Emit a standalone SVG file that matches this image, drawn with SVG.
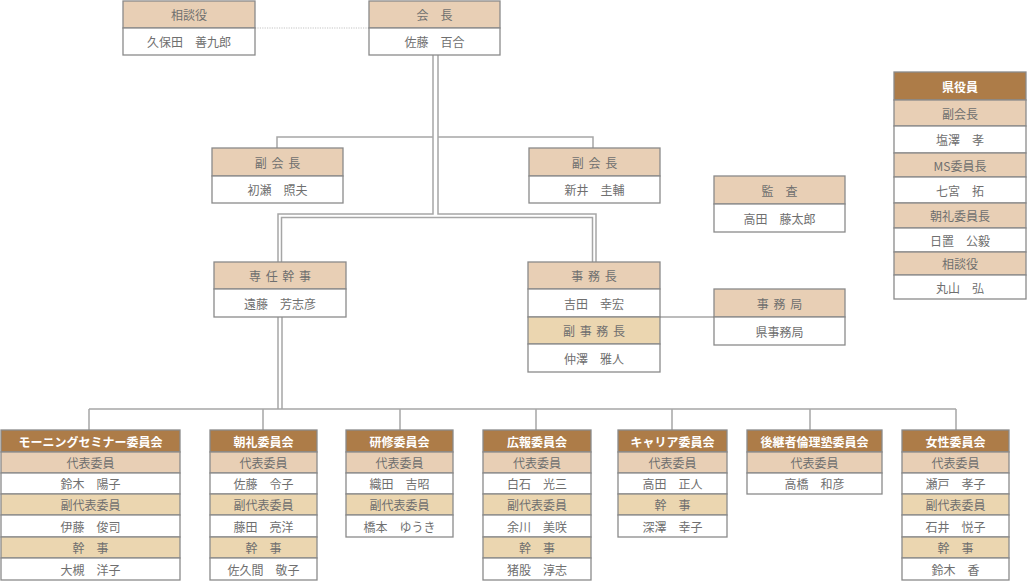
<svg xmlns="http://www.w3.org/2000/svg" width="1027" height="582" viewBox="0 0 1027 582">
<style>
.r{stroke:#8a8a8a;stroke-width:1.3}
.hd{fill:#ad7c48}
.pk{fill:#e8cfb5}
.yl{fill:#ebd6b0}
.wh{fill:#ffffff}
text{font-family:"Noto Sans CJK JP","Noto Sans",sans-serif;font-size:12px;fill:#6f6f6f;text-anchor:middle;dominant-baseline:central}
text.th{fill:#ffffff;font-weight:bold}
text.sp{letter-spacing:1px}
.ln{fill:none;stroke:#a6a6a6;stroke-width:1.5}
.dt{fill:none;stroke:#c4c4c4;stroke-width:1.2;stroke-dasharray:1.2 1.2}
</style>
<rect width="1027" height="582" fill="#ffffff"/>
<g id="connectors">
<path class="dt" d="M255,28 H369"/>
<path class="ln" d="M433,55 V214 H278 V262"/>
<path class="ln" d="M438,55 V214 H596 V262"/>
<path class="ln" d="M281.5,262 V217.5 H592.5 V262"/>
<path class="ln" d="M433,137 H277 V148"/>
<path class="ln" d="M438,137 H593 V148"/>
<path class="ln" d="M278,317 V409"/>
<path class="ln" d="M282,317 V409"/>
<path class="ln" d="M89,409 H956"/>
<path class="ln" d="M89,409 V430 M263,409 V430 M400,409 V430 M536,409 V430 M672,409 V430 M810,409 V430 M956,409 V430"/>
<path class="ln" d="M660,317 H714"/>
</g>
<g id="soudanyaku">
<rect class="r pk" x="123" y="1" width="132" height="27"/>
<rect class="r wh" x="123" y="28" width="132" height="27"/>
<text x="189" y="14.5">相談役</text>
<text x="189" y="41.5">久保田　善九郎</text>
</g>
<g id="kaicho">
<rect class="r pk" x="369" y="1" width="131" height="27"/>
<rect class="r wh" x="369" y="28" width="131" height="27"/>
<text x="434.5" y="14.5">会　長</text>
<text x="434.5" y="41.5">佐藤　百合</text>
</g>
<g id="fukukaicho1">
<rect class="r pk" x="212" y="148" width="131" height="28"/>
<rect class="r wh" x="212" y="176" width="131" height="27"/>
<text class="sp" x="278" y="162">副 会 長</text>
<text x="277.5" y="189.5">初瀬　照夫</text>
</g>
<g id="fukukaicho2">
<rect class="r pk" x="529" y="148" width="131" height="28"/>
<rect class="r wh" x="529" y="176" width="131" height="27"/>
<text class="sp" x="595" y="162">副 会 長</text>
<text x="594.5" y="189.5">新井　圭輔</text>
</g>
<g id="kansa">
<rect class="r pk" x="714" y="176" width="131" height="28"/>
<rect class="r wh" x="714" y="204" width="131" height="28"/>
<text x="779.5" y="190">監　査</text>
<text x="779.5" y="218">高田　藤太郎</text>
</g>
<g id="sennin">
<rect class="r pk" x="214" y="262" width="132" height="27"/>
<rect class="r wh" x="214" y="289" width="132" height="28"/>
<text class="sp" x="280.5" y="275.5">専 任 幹 事</text>
<text x="280" y="303">遠藤　芳志彦</text>
</g>
<g id="jimucho">
<rect class="r pk" x="528" y="262" width="132" height="27"/>
<rect class="r wh" x="528" y="289" width="132" height="28"/>
<rect class="r yl" x="528" y="317" width="132" height="27"/>
<rect class="r wh" x="528" y="344" width="132" height="28"/>
<text class="sp" x="594.5" y="275.5">事 務 長</text>
<text x="594" y="303">吉田　幸宏</text>
<text class="sp" x="594.5" y="330.5">副 事 務 長</text>
<text x="594" y="358">仲澤　雅人</text>
</g>
<g id="jimukyoku">
<rect class="r pk" x="714" y="289" width="131" height="28"/>
<rect class="r wh" x="714" y="317" width="131" height="28"/>
<text class="sp" x="780" y="303">事 務 局</text>
<text x="779.5" y="331">県事務局</text>
</g>
<g id="kenyakuin">
<rect class="r hd" x="894" y="72" width="132" height="28"/>
<rect class="r pk" x="894" y="100" width="132" height="26"/>
<rect class="r wh" x="894" y="126" width="132" height="27"/>
<rect class="r pk" x="894" y="153" width="132" height="24"/>
<rect class="r wh" x="894" y="177" width="132" height="26"/>
<rect class="r pk" x="894" y="203" width="132" height="25"/>
<rect class="r wh" x="894" y="228" width="132" height="24"/>
<rect class="r pk" x="894" y="252" width="132" height="23"/>
<rect class="r wh" x="894" y="275" width="132" height="24"/>
<text class="th" x="960" y="86">県役員</text>
<text x="960" y="113">副会長</text>
<text x="960" y="139.5">塩澤　孝</text>
<text x="960" y="165">MS委員長</text>
<text x="960" y="190">七宮　拓</text>
<text x="960" y="215.5">朝礼委員長</text>
<text x="960" y="240">日置　公毅</text>
<text x="960" y="263.5">相談役</text>
<text x="960" y="287">丸山　弘</text>
</g>
<g id="morning">
<rect class="r hd" x="1" y="430" width="179" height="22"/>
<rect class="r pk" x="1" y="452" width="179" height="21"/>
<rect class="r wh" x="1" y="473" width="179" height="21"/>
<rect class="r yl" x="1" y="494" width="179" height="21"/>
<rect class="r wh" x="1" y="515" width="179" height="22"/>
<rect class="r yl" x="1" y="537" width="179" height="21"/>
<rect class="r wh" x="1" y="558" width="179" height="22"/>
<text class="th" x="90.5" y="441">モーニングセミナー委員会</text>
<text x="90.5" y="462.5">代表委員</text>
<text x="90.5" y="483.5">鈴木　陽子</text>
<text x="90.5" y="504.5">副代表委員</text>
<text x="90.5" y="526">伊藤　俊司</text>
<text x="90.5" y="547.5">幹　事</text>
<text x="90.5" y="569">大槻　洋子</text>
</g>
<g id="chorei">
<rect class="r hd" x="210" y="430" width="107" height="22"/>
<rect class="r pk" x="210" y="452" width="107" height="21"/>
<rect class="r wh" x="210" y="473" width="107" height="21"/>
<rect class="r yl" x="210" y="494" width="107" height="21"/>
<rect class="r wh" x="210" y="515" width="107" height="22"/>
<rect class="r yl" x="210" y="537" width="107" height="21"/>
<rect class="r wh" x="210" y="558" width="107" height="22"/>
<text class="th" x="263.5" y="441">朝礼委員会</text>
<text x="263.5" y="462.5">代表委員</text>
<text x="263.5" y="483.5">佐藤　令子</text>
<text x="263.5" y="504.5">副代表委員</text>
<text x="263.5" y="526">藤田　亮洋</text>
<text x="263.5" y="547.5">幹　事</text>
<text x="263.5" y="569">佐久間　敬子</text>
</g>
<g id="kenshu">
<rect class="r hd" x="346" y="430" width="107" height="22"/>
<rect class="r pk" x="346" y="452" width="107" height="21"/>
<rect class="r wh" x="346" y="473" width="107" height="21"/>
<rect class="r yl" x="346" y="494" width="107" height="21"/>
<rect class="r wh" x="346" y="515" width="107" height="22"/>
<text class="th" x="399.5" y="441">研修委員会</text>
<text x="399.5" y="462.5">代表委員</text>
<text x="399.5" y="483.5">織田　吉昭</text>
<text x="399.5" y="504.5">副代表委員</text>
<text x="399.5" y="526">橋本　ゆうき</text>
</g>
<g id="koho">
<rect class="r hd" x="483" y="430" width="108" height="22"/>
<rect class="r pk" x="483" y="452" width="108" height="21"/>
<rect class="r wh" x="483" y="473" width="108" height="21"/>
<rect class="r yl" x="483" y="494" width="108" height="21"/>
<rect class="r wh" x="483" y="515" width="108" height="22"/>
<rect class="r yl" x="483" y="537" width="108" height="21"/>
<rect class="r wh" x="483" y="558" width="108" height="22"/>
<text class="th" x="537" y="441">広報委員会</text>
<text x="537" y="462.5">代表委員</text>
<text x="537" y="483.5">白石　光三</text>
<text x="537" y="504.5">副代表委員</text>
<text x="537" y="526">余川　美咲</text>
<text x="537" y="547.5">幹　事</text>
<text x="537" y="569">猪股　淳志</text>
</g>
<g id="career">
<rect class="r hd" x="618" y="430" width="109" height="22"/>
<rect class="r pk" x="618" y="452" width="109" height="21"/>
<rect class="r wh" x="618" y="473" width="109" height="21"/>
<rect class="r yl" x="618" y="494" width="109" height="21"/>
<rect class="r wh" x="618" y="515" width="109" height="22"/>
<text class="th" x="672.5" y="441">キャリア委員会</text>
<text x="672.5" y="462.5">代表委員</text>
<text x="672.5" y="483.5">高田　正人</text>
<text x="672.5" y="504.5">幹　事</text>
<text x="672.5" y="526">深澤　幸子</text>
</g>
<g id="koukeisha">
<rect class="r hd" x="747" y="430" width="135" height="22"/>
<rect class="r pk" x="747" y="452" width="135" height="21"/>
<rect class="r wh" x="747" y="473" width="135" height="21"/>
<text class="th" x="814.5" y="441">後継者倫理塾委員会</text>
<text x="814.5" y="462.5">代表委員</text>
<text x="814.5" y="483.5">高橋　和彦</text>
</g>
<g id="josei">
<rect class="r hd" x="902" y="430" width="107" height="22"/>
<rect class="r pk" x="902" y="452" width="107" height="21"/>
<rect class="r wh" x="902" y="473" width="107" height="21"/>
<rect class="r yl" x="902" y="494" width="107" height="21"/>
<rect class="r wh" x="902" y="515" width="107" height="22"/>
<rect class="r yl" x="902" y="537" width="107" height="21"/>
<rect class="r wh" x="902" y="558" width="107" height="22"/>
<text class="th" x="955.5" y="441">女性委員会</text>
<text x="955.5" y="462.5">代表委員</text>
<text x="955.5" y="483.5">瀬戸　孝子</text>
<text x="955.5" y="504.5">副代表委員</text>
<text x="955.5" y="526">石井　悦子</text>
<text x="955.5" y="547.5">幹　事</text>
<text x="955.5" y="569">鈴木　香</text>
</g>
</svg>
